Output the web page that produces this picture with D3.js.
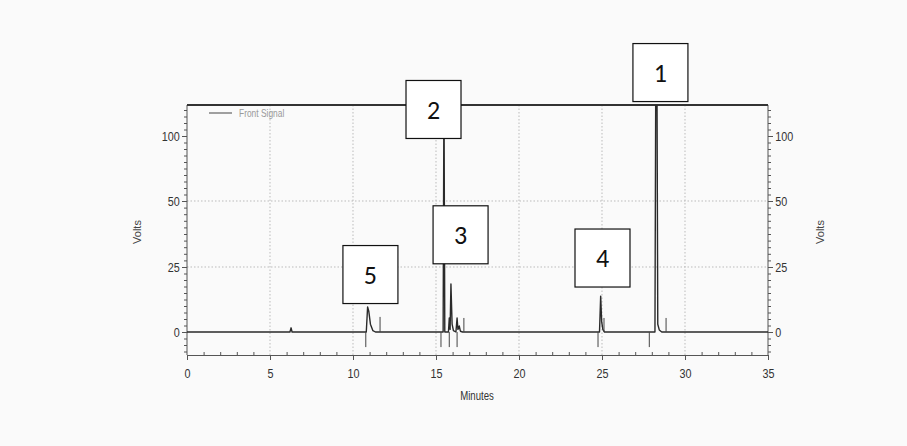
<!DOCTYPE html>
<html>
<head>
<meta charset="utf-8">
<script src="https://cdn.jsdelivr.net/npm/d3@7"></script>
<style>
  html, body { margin: 0; padding: 0; background: #fafafa; }
  svg { display: block; }
  .tick text { font-family: 'Liberation Sans Narrow', 'Arial Narrow', 'Liberation Sans', sans-serif; font-size: 13.5px; fill: #333; }
  .axis path, .axis line { stroke: #555; }
</style>
</head>
<body>
<svg id="chart" width="907" height="446"></svg>
<script>
// chromatogram trace (minutes, volts)
const traceTimes = [0, 6.2, 6.27, 6.33, 10.8, 10.88, 10.95, 11.05, 11.2, 11.35,
  15.43, 15.48, 15.53, 15.75, 15.8, 15.85, 15.9, 15.97, 16.05, 16.2, 16.27, 16.32, 16.4, 16.47, 16.6,
  24.85, 24.92, 24.98, 25.05, 25.15, 28.19, 28.24, 28.31, 28.36, 28.45, 28.6, 35];
const traceVolts = [0, 0, 1.6, 0, 0, 9.6, 8, 3, 0.5, 0,
  0, 140, 0, 0, 5.4, 1, 18.5, 3, 0.5, 0, 5.4, 1, 2.3, 0.3, 0,
  0, 13.8, 4, 1, 0, 0, 150, 150, 3, 0.8, 0, 0];

// integration event marks (vertical ticks from baseline)
const markTimes = [10.77, 11.63, 15.3, 15.8, 16.27, 16.68, 24.76, 25.12, 27.85, 28.86];
const markVolts = [-5.8, 5.8, -5.8, -5.8, -5.8, 5.4, -5.8, 5.4, -5.8, 5.4];

// numbered peak labels (box centres in data units)
const peakLabels = ['1', '2', '3', '4', '5'];
const labelTimes = [28.52, 14.85, 16.48, 25.03, 11.05];
const labelVolts = [148.8, 120.4, 37.2, 28.4, 22.1];

const xTicks = [0, 5, 10, 15, 20, 25, 30, 35];
const yTicks = [0, 25, 50, 100];
const yGrid = [25, 50];
const yMinor = [-7.5, -5, -2.5, 2.5, 5, 7.5, 10, 12.5, 15, 17.5, 20, 22.5,
  27.5, 30, 32.5, 35, 37.5, 40, 42.5, 45, 47.5, 55, 60, 65, 70, 75, 80, 85, 90, 95,
  105, 110, 115, 120];

const plotLeft = 187, plotRight = 768, plotTop = 105, plotBottom = 355;
const svg = d3.select('#chart');
const font = "'Liberation Sans Narrow', 'Arial Narrow', 'Liberation Sans', sans-serif";
const NARROW = 'scale(0.8,1)'; // printout uses a narrow face

const x = d3.scaleLinear([0, 35], [plotLeft, plotRight]);
// the printout's volts axis is piecewise: 0, 25, 50, 100 are equally spaced
const y = d3.scaleLinear().domain([0, 25, 50, 100]).range([332, 267, 201, 136]);

/* grid */
const grid = svg.append('g').attr('stroke', '#bbb').attr('stroke-dasharray', '1.5,2').attr('stroke-width', 1);
grid.selectAll('.gx').data(xTicks.slice(1, -1)).enter().append('line')
  .attr('x1', (d) => x(d)).attr('x2', (d) => x(d)).attr('y1', plotTop).attr('y2', plotBottom);
grid.selectAll('.gy').data(yGrid).enter().append('line')
  .attr('x1', plotLeft).attr('x2', plotRight).attr('y1', (d) => y(d)).attr('y2', (d) => y(d));

/* axes */
svg.append('g').attr('class', 'axis').attr('transform', `translate(0,${plotBottom})`)
  .call(d3.axisBottom(x).tickValues(xTicks).tickSize(5).tickPadding(8).tickFormat(d3.format('d')))
  .selectAll('.tick text').attr('transform', NARROW);
svg.append('g').attr('class', 'axis').attr('transform', `translate(0,${plotBottom})`)
  .call(d3.axisBottom(x).tickValues(d3.range(1, 35).filter((d) => d % 5)).tickSize(-3).tickFormat(''))
  .select('.domain').remove();

const leftG = svg.append('g').attr('class', 'axis').attr('transform', `translate(${plotLeft},0)`)
  .call(d3.axisLeft(y).tickValues(yTicks).tickSize(5).tickPadding(4).tickSizeOuter(0));
leftG.select('.domain').attr('d', `M0,${plotTop}V${plotBottom}`);
leftG.selectAll('.tick text').attr('transform', NARROW);
svg.append('g').attr('class', 'axis').attr('transform', `translate(${plotLeft},0)`)
  .call(d3.axisLeft(y).tickValues(yMinor).tickSize(3).tickFormat(''))
  .select('.domain').remove();

const rightG = svg.append('g').attr('class', 'axis').attr('transform', `translate(${plotRight},0)`)
  .call(d3.axisRight(y).tickValues(yTicks).tickSize(5).tickPadding(4).tickSizeOuter(0));
rightG.select('.domain').attr('d', `M0,${plotTop}V${plotBottom}`);
rightG.selectAll('.tick text').attr('transform', NARROW);
svg.append('g').attr('class', 'axis').attr('transform', `translate(${plotRight},0)`)
  .call(d3.axisRight(y).tickValues(yMinor).tickSize(3).tickFormat(''))
  .select('.domain').remove();

// top frame
svg.append('line').attr('x1', plotLeft).attr('x2', plotRight).attr('y1', plotTop).attr('y2', plotTop)
  .attr('stroke', '#333').attr('stroke-width', 1.8);

/* axis titles */
svg.append('text').attr('transform', `translate(${(plotLeft + plotRight) / 2 - 0.5},400) ${NARROW}`)
  .attr('text-anchor', 'middle')
  .attr('font-family', font).attr('font-size', 12).attr('fill', '#333').text('Minutes');
svg.append('text').attr('transform', 'translate(141,232) rotate(-90)').attr('text-anchor', 'middle')
  .attr('font-family', 'Liberation Sans, sans-serif').attr('font-size', 11).attr('fill', '#444').text('Volts');
svg.append('text').attr('transform', 'translate(824,232) rotate(-90)').attr('text-anchor', 'middle')
  .attr('font-family', 'Liberation Sans, sans-serif').attr('font-size', 11).attr('fill', '#444').text('Volts');

/* legend */
svg.append('line').attr('x1', 209).attr('x2', 232).attr('y1', 113).attr('y2', 113)
  .attr('stroke', '#444').attr('stroke-width', 1);
svg.append('text').attr('transform', `translate(239,117) ${NARROW}`).attr('font-family', font)
  .attr('font-size', 10.5).attr('fill', '#999').text('Front Signal');

/* trace */
svg.append('clipPath').attr('id', 'plot-clip').append('rect')
  .attr('x', plotLeft).attr('y', plotTop).attr('width', plotRight - plotLeft).attr('height', plotBottom - plotTop);

const plot = svg.append('g').attr('clip-path', 'url(#plot-clip)');
const traceData = traceTimes.map((t, i) => ({ t: t, v: traceVolts[i] }));
plot.append('path')
  .attr('fill', 'none').attr('stroke', '#2a2a2a').attr('stroke-width', 1.4).attr('stroke-linejoin', 'round')
  .attr('d', d3.line().x((d) => x(d.t)).y((d) => y(d.v))(traceData));

plot.selectAll('.mark').data(markTimes).enter().append('line')
  .attr('stroke', '#444').attr('stroke-width', 1)
  .attr('x1', (d) => x(d)).attr('x2', (d) => x(d))
  .attr('y1', y(0)).attr('y2', (d, i) => y(markVolts[i]));

/* numbered boxes */
const boxW = 55, boxH = 58;
const labels = svg.selectAll('.peak-label').data(peakLabels).enter().append('g')
  .attr('transform', (d, i) => `translate(${x(labelTimes[i])},${y(labelVolts[i])})`);
labels.append('rect').attr('x', -boxW / 2).attr('y', -boxH / 2).attr('width', boxW).attr('height', boxH)
  .attr('fill', '#fff').attr('stroke', '#111').attr('stroke-width', 1.2);
labels.append('text').attr('text-anchor', 'middle').attr('dy', '0.36em')
  .attr('font-family', 'Carlito, Lato, sans-serif').attr('font-size', 26).attr('fill', '#111')
  .text((d) => d);
</script>
</body>
</html>
